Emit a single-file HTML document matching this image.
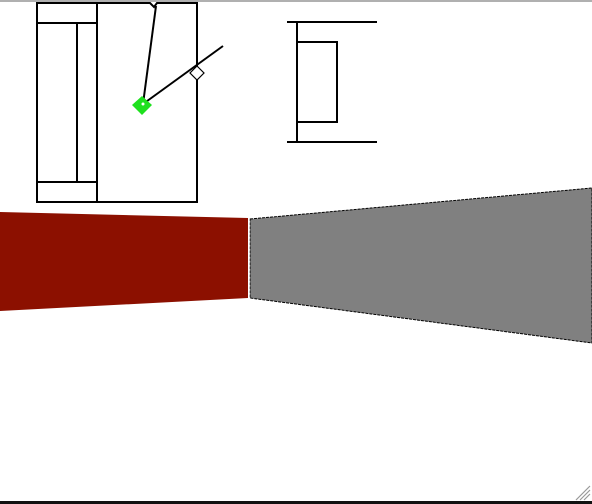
<!DOCTYPE html>
<html><head><meta charset="utf-8"><style>
html,body{margin:0;padding:0;background:#fff;}
svg{display:block;}
</style></head><body>
<svg width="592" height="504" viewBox="0 0 592 504">
<rect x="0" y="0" width="592" height="504" fill="#fff"/>
<rect x="0" y="0" width="592" height="2" fill="#b0b0b0"/>
<polygon points="0,212 248,218 248,298 0,311" fill="#8c1000"/>
<polygon points="250,219 592,188 592,343 250,298" fill="#808080" stroke="#000" stroke-width="1" stroke-dasharray="3,1"/>
<line x1="249" y1="218" x2="249" y2="299" stroke="#fff" stroke-width="1.5"/>
<g fill="none" stroke="#000" stroke-width="2">
<path d="M37,3 H150 L154,7 L157,3 H197 V202 H37 Z"/>
<line x1="97" y1="3" x2="97" y2="202"/>
<line x1="37" y1="23" x2="97" y2="23"/>
<line x1="37" y1="182" x2="97" y2="182"/>
<line x1="77" y1="23" x2="77" y2="182"/>
<line x1="143" y1="104" x2="156" y2="6"/>
<line x1="143" y1="104" x2="223" y2="46"/>
<path d="M287,22 H377 M287,142 H377 M297,22 V142 M297,42 H337 V122 H297"/>
</g>
<polygon points="197,66 204,73 197,80 190,73" fill="#fff" stroke="#000" stroke-width="1.2"/>
<polygon points="142,96 152,105 142,115 132,105" fill="#1ee01e"/>
<circle cx="143" cy="104" r="1.5" fill="#fff"/>
<rect x="0" y="501" width="592" height="3" fill="#111"/>
<g stroke="#999" stroke-width="1.2">
<line x1="576" y1="500" x2="590" y2="486"/><line x1="580" y1="500" x2="590" y2="490"/><line x1="584" y1="500" x2="590" y2="494"/>
</g>
</svg>
</body></html>
